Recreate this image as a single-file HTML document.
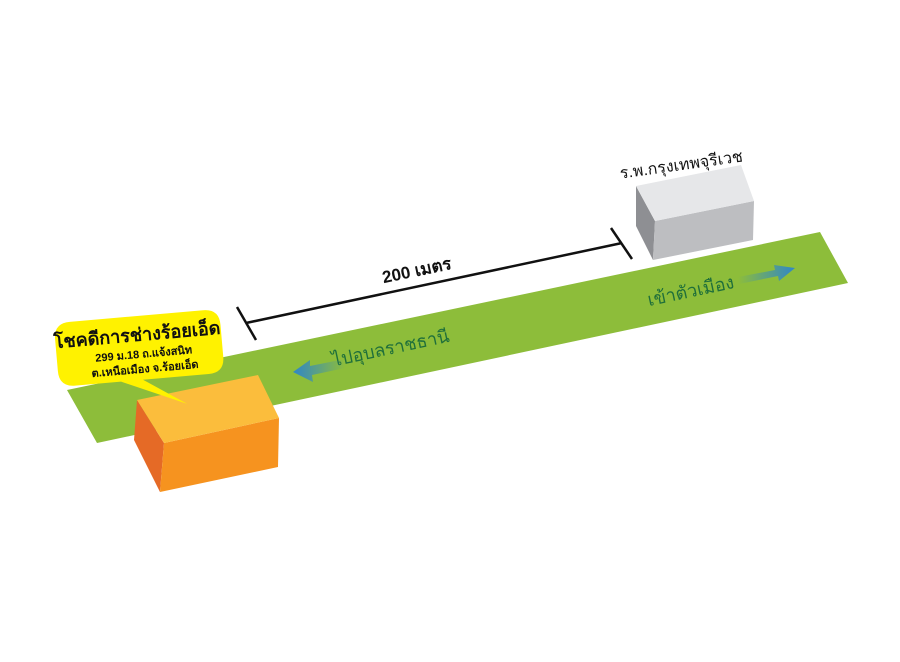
<!DOCTYPE html>
<html><head><meta charset="utf-8"><style>
body{margin:0;background:#fff;width:900px;height:657px;overflow:hidden;font-family:"Liberation Sans",sans-serif}
</style></head><body>
<svg width="900" height="657" viewBox="0 0 900 657" xmlns="http://www.w3.org/2000/svg">
<defs>
<linearGradient id="gl" x1="1" y1="0" x2="0" y2="0"><stop offset="0" stop-color="#2f86c8" stop-opacity="0"/><stop offset="1" stop-color="#2f86c8"/></linearGradient>
<linearGradient id="gr" x1="0" y1="0" x2="1" y2="0"><stop offset="0" stop-color="#2f86c8" stop-opacity="0"/><stop offset="1" stop-color="#2f86c8"/></linearGradient>
</defs>
<polygon points="67,390 820,232 848,283 97,443" fill="#8dbd3a"/>
<g stroke="#111" stroke-width="2.5" fill="none">
<line x1="246" y1="323" x2="622" y2="243"/>
<line x1="237" y1="307" x2="256" y2="340"/>
<line x1="611" y1="228" x2="632" y2="259"/>
</g>
<text x="418" y="276" transform="rotate(-12 418 276)" font-size="17" font-weight="bold" fill="#111" text-anchor="middle">200 เมตร</text>
<polygon points="636,186 655,221 653,260 636,226" fill="#8e8f93"/>
<polygon points="655,221 754,201 753,240 653,260" fill="#bdbec1"/>
<polygon points="636,186 741,165 754,201 655,221" fill="#e6e7e9"/>
<text x="682" y="170" transform="rotate(-8 682 170)" font-size="16" fill="#111" text-anchor="middle">ร.พ.กรุงเทพจุรีเวช</text>
<text x="392" y="354" transform="rotate(-12 392 354)" font-size="18" fill="#1f6f3a" text-anchor="middle">ไปอุบลราชธานี</text>
<polygon points="293,372 310,360 310,366 345,359 345,368 312,375 313,382" fill="url(#gl)"/>
<text x="692" y="297" transform="rotate(-12 692 297)" font-size="18" fill="#1f6f3a" text-anchor="middle">เข้าตัวเมือง</text>
<polygon points="738,277 775,270 774,265 795,268 779,281 778,276 739,284" fill="url(#gr)"/>
<polygon points="137,400 164,443 160,492 134,440" fill="#e56a26"/>
<polygon points="164,443 279,418 278,467 160,492" fill="#f6931f"/>
<polygon points="137,400 258,375 279,418 164,443" fill="#fbbd3c"/>
<g transform="rotate(-5 138 346)">
<path d="M72,316 H206 Q222,316 222,332 V364 Q222,380 206,380 H140 L182,408 L118,380 H72 Q56,380 56,364 V332 Q56,316 72,316 Z" fill="#fff200"/>
<text x="138" y="341" font-size="18" font-weight="bold" fill="#111" text-anchor="middle">โชคดีการช่างร้อยเอ็ด</text>
<text x="143" y="358" font-size="11" font-weight="bold" fill="#111" text-anchor="middle">299 ม.18 ถ.แจ้งสนิท</text>
<text x="143" y="373" font-size="11" font-weight="bold" fill="#111" text-anchor="middle">ต.เหนือเมือง จ.ร้อยเอ็ด</text>
</g>
</svg>
</body></html>
